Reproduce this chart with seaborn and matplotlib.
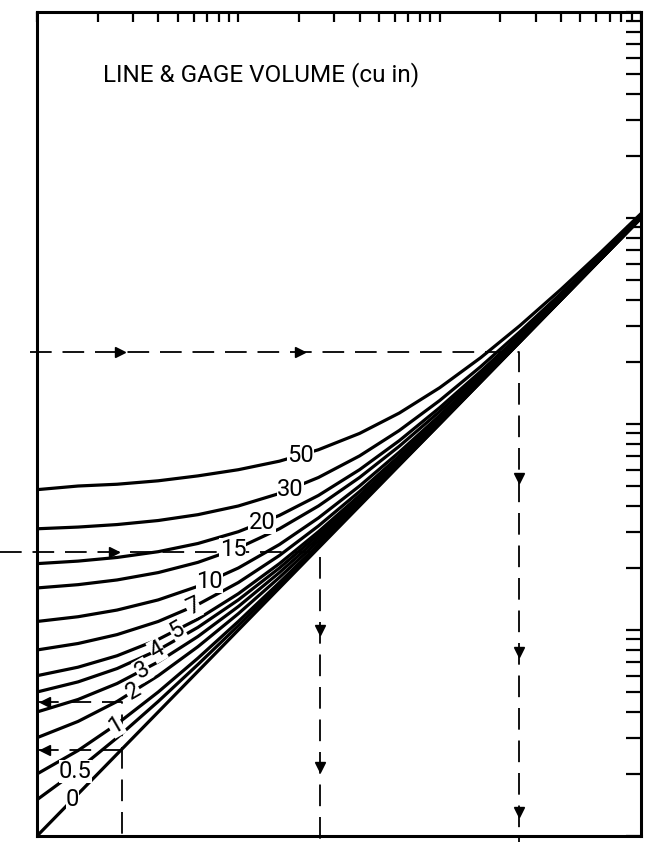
import numpy as np
import pandas as pd
import matplotlib
matplotlib.use("Agg")
import matplotlib.pyplot as plt
from matplotlib.ticker import LogLocator, NullFormatter
import seaborn as sns

sns.set_theme(style="white")
plt.rcParams['font.family'] = ['Liberation Sans Narrow', 'Roboto', 'DejaVu Sans']
plt.rcParams['text.color'] = 'black'

# line length axis (x) and response axis (y), both log
x_pts = [1, 1.6, 2.5, 4, 6.3, 10, 16, 25, 40, 63, 100, 160, 250, 400, 630, 1000]

v0 = [0.010, 0.016, 0.025, 0.040, 0.063, 0.100, 0.160, 0.250, 0.400, 0.630, 1.00, 1.60, 2.50, 4.00, 6.30, 10.0]
v05 = [0.015, 0.021, 0.030, 0.045, 0.068, 0.105, 0.165, 0.255, 0.405, 0.635, 1.00, 1.60, 2.50, 4.00, 6.30, 10.0]
v1 = [0.020, 0.026, 0.035, 0.050, 0.073, 0.110, 0.170, 0.260, 0.410, 0.640, 1.01, 1.61, 2.51, 4.01, 6.31, 10.0]
v2 = [0.030, 0.036, 0.045, 0.060, 0.083, 0.120, 0.180, 0.270, 0.420, 0.650, 1.02, 1.62, 2.52, 4.02, 6.32, 10.0]
v3 = [0.040, 0.046, 0.055, 0.070, 0.093, 0.130, 0.190, 0.280, 0.430, 0.660, 1.03, 1.63, 2.53, 4.03, 6.33, 10.0]
v4 = [0.050, 0.056, 0.065, 0.080, 0.103, 0.140, 0.200, 0.290, 0.440, 0.670, 1.04, 1.64, 2.54, 4.04, 6.34, 10.0]
v5 = [0.060, 0.066, 0.075, 0.090, 0.113, 0.150, 0.210, 0.300, 0.450, 0.680, 1.05, 1.65, 2.55, 4.05, 6.35, 10.1]
v7 = [0.080, 0.086, 0.095, 0.110, 0.133, 0.170, 0.230, 0.320, 0.470, 0.700, 1.07, 1.67, 2.57, 4.07, 6.37, 10.1]
v10 = [0.110, 0.116, 0.125, 0.140, 0.163, 0.200, 0.260, 0.350, 0.500, 0.730, 1.10, 1.70, 2.60, 4.10, 6.40, 10.1]
v15 = [0.160, 0.166, 0.175, 0.190, 0.213, 0.250, 0.310, 0.400, 0.550, 0.780, 1.15, 1.75, 2.65, 4.15, 6.45, 10.2]
v20 = [0.210, 0.216, 0.225, 0.240, 0.263, 0.300, 0.360, 0.450, 0.600, 0.830, 1.20, 1.80, 2.70, 4.20, 6.50, 10.2]
v30 = [0.310, 0.316, 0.325, 0.340, 0.363, 0.400, 0.460, 0.550, 0.700, 0.930, 1.30, 1.90, 2.80, 4.30, 6.60, 10.3]
v50 = [0.480, 0.500, 0.510, 0.530, 0.560, 0.600, 0.660, 0.750, 0.900, 1.13, 1.50, 2.10, 3.00, 4.50, 6.80, 10.5]

volumes = [0, 0.5, 1, 2, 3, 4, 5, 7, 10, 15, 20, 30, 50]
curves = [v0, v05, v1, v2, v3, v4, v5, v7, v10, v15, v20, v30, v50]
vol_labels = ["0", "0.5", "1", "2", "3", "4", "5", "7", "10", "15", "20", "30", "50"]
label_x = [1.5, 1.55, 2.45, 3.0, 3.35, 3.95, 4.95, 5.95, 7.2, 9.4, 13.1, 18.1, 20.3]
label_rot = [0, 0, 30, 30, 30, 30, 30, 25, 0, 0, 0, 0, 0]

# worked example guide lines
guide_a_x = [0.92, 248, 248]
guide_a_y = [2.24, 2.24, 0.0093]
guide_b_x = [0.655, 25.5, 25.5]
guide_b_y = [0.239, 0.239, 0.0093]
guide_c_x = [1, 2.64, 2.64]
guide_c_y = [0.0447, 0.0447, 0.0093]
guide_d_x = [1, 2.64]
guide_d_y = [0.0261, 0.0261]
arrow_right_x = [2.58, 20.3, 2.4]
arrow_right_y = [2.24, 2.24, 0.239]
arrow_down_x = [248, 248, 248, 25.5, 25.5]
arrow_down_y = [0.547, 0.078, 0.0131, 0.1, 0.0216]
arrow_left_x = [1.1, 1.1]
arrow_left_y = [0.0447, 0.0261]

rows = []
for v, ys in zip(volumes, curves):
    for xv, yv in zip(x_pts, ys):
        rows.append((v, xv, yv))
df = pd.DataFrame(rows, columns=["volume", "length", "time"])

fig = plt.figure(figsize=(6.45, 8.42), dpi=100)
ax = fig.add_axes([37/645, 1-836/842, 604/645, 824/842])

sns.lineplot(data=df, x="length", y="time", units="volume", estimator=None,
             color="black", lw=2.3, ax=ax, legend=False, sort=False)

ax.set_xscale("log")
ax.set_yscale("log")
ax.set_xlim(1, 1000)
ax.set_ylim(0.01, 100)

dash = dict(color="black", lw=1.3, dashes=(12, 6), clip_on=False)
ax.plot(guide_a_x, guide_a_y, **dash)
ax.plot(guide_b_x, guide_b_y, **dash)
ax.plot(guide_c_x, guide_c_y, **dash)
ax.plot(guide_d_x, guide_d_y, **dash)
ax.plot(arrow_right_x, arrow_right_y, ls="none", marker=">", ms=7, color="black")
ax.plot(arrow_down_x, arrow_down_y, ls="none", marker="v", ms=7, color="black", clip_on=False)
ax.plot(arrow_left_x, arrow_left_y, ls="none", marker="<", ms=7, color="black")

for lab, lx, v, rot in zip(vol_labels, label_x, volumes, label_rot):
    ly = np.interp(np.log10(lx), np.log10(x_pts), np.log10(curves[volumes.index(v)]))
    ax.text(lx, 10**ly, lab, fontsize=17, ha="center", va="center", rotation=rot,
            color="black", bbox=dict(fc="white", ec="none", pad=0.2))

ax.text(0.109, 0.9235, "LINE & GAGE VOLUME (cu in)", transform=ax.transAxes,
        fontsize=17.5, ha="left", va="center", color="black")

ax.xaxis.set_major_locator(LogLocator(base=10))
ax.xaxis.set_minor_locator(LogLocator(base=10, subs=np.arange(2, 10)))
ax.yaxis.set_major_locator(LogLocator(base=10))
ax.yaxis.set_minor_locator(LogLocator(base=10, subs=np.arange(2, 10)))
ax.xaxis.set_minor_formatter(NullFormatter())
ax.yaxis.set_minor_formatter(NullFormatter())
ax.tick_params(which="both", direction="in", top=True, right=True,
               labelbottom=False, labelleft=False, color="black", width=1.6)
ax.tick_params(axis="x", which="both", length=7)
ax.tick_params(axis="y", which="both", length=11)
ax.set_xlabel("")
ax.set_ylabel("")
for s in ax.spines.values():
    s.set_linewidth(2.2)
    s.set_color("black")

fig.savefig("out.png", dpi=100)
